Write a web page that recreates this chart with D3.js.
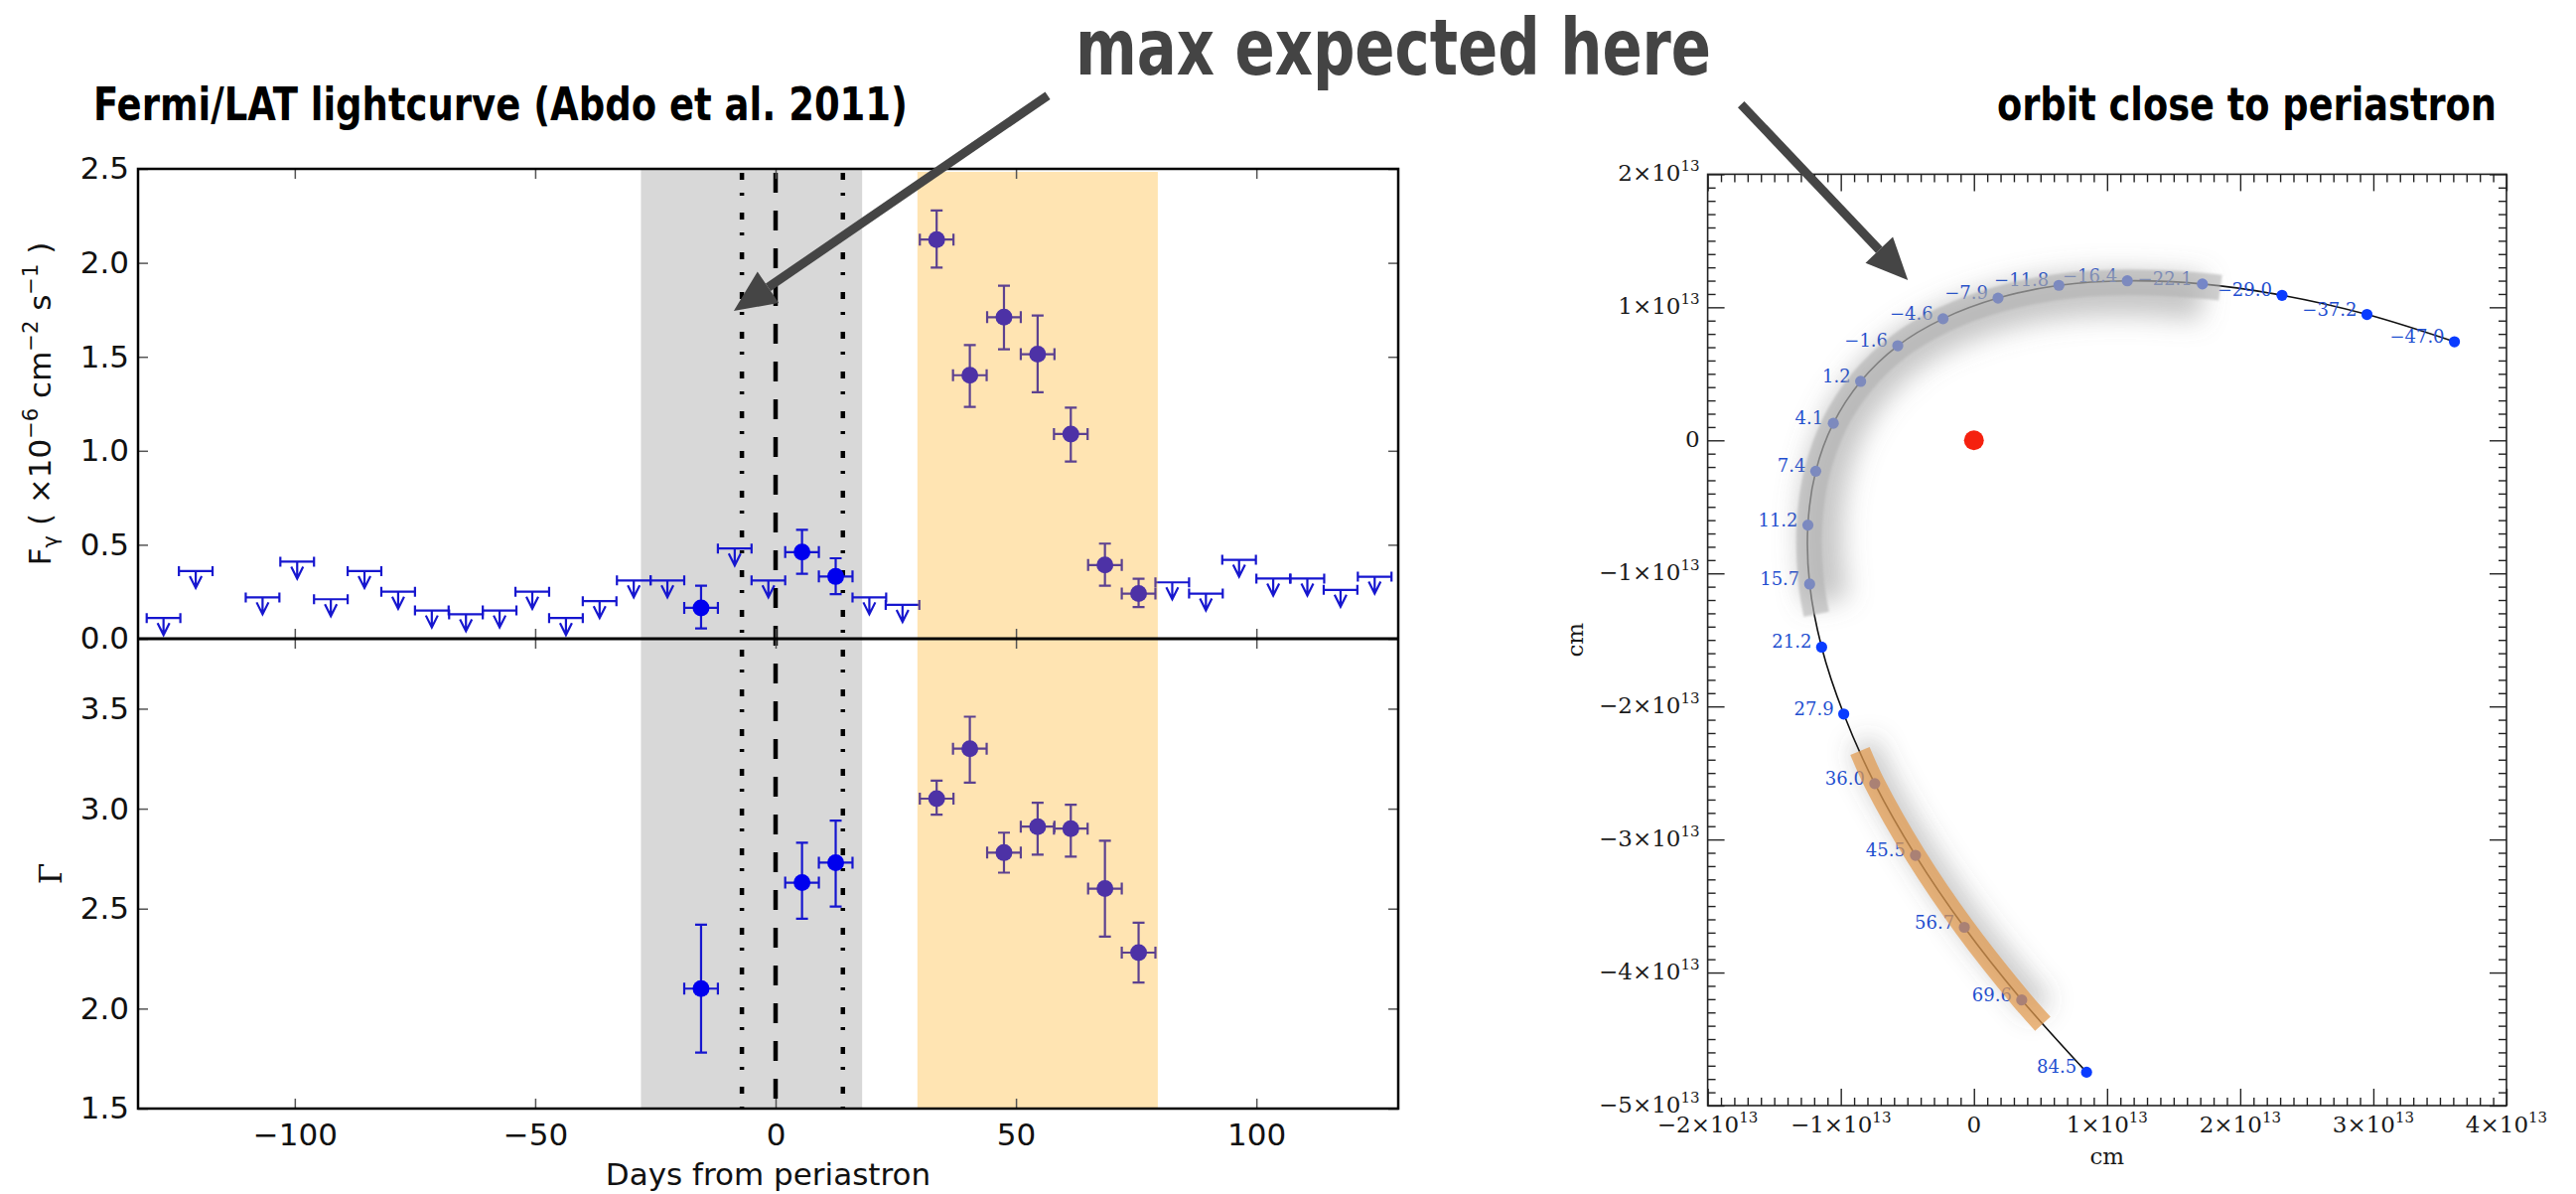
<!DOCTYPE html>
<html>
<head>
<meta charset="utf-8">
<script src="https://cdn.jsdelivr.net/npm/d3@7"></script>
<style>
  body { margin: 0; background: #fff; }
  svg { display: block; }
</style>
</head>
<body>
<svg id="chart" width="2594" height="1202"></svg>
<script>
// ---- lightcurve data (Fermi/LAT, 7 day bins) ----
var ulDay  = [-127.3, -120.6, -106.7, -99.5, -92.5, -85.5, -78.5, -71.5, -64.4, -57.4, -50.6, -43.6, -36.6, -29.5, -22.5, -8.5, -1.5, 19.5, 26.4, 82.5, 89.5, 96.4, 103.5, 110.6, 117.5, 124.6]
var ulFlux = [0.11, 0.36, 0.22, 0.41, 0.21, 0.36, 0.25, 0.15, 0.13, 0.15, 0.25, 0.11, 0.20, 0.31, 0.31, 0.48, 0.31, 0.22, 0.18, 0.30, 0.24, 0.42, 0.32, 0.32, 0.26, 0.33]
var detDay    = [-15.5, 5.5, 12.5, 33.5, 40.4, 47.5, 54.5, 61.4, 68.5, 75.5]
var detFlux   = [0.164, 0.461, 0.331, 2.124, 1.402, 1.711, 1.514, 1.089, 0.392, 0.240]
var detFluxLo = [0.055, 0.346, 0.237, 1.975, 1.234, 1.540, 1.311, 0.943, 0.282, 0.168]
var detFluxHi = [0.282, 0.579, 0.428, 2.279, 1.562, 1.878, 1.720, 1.229, 0.506, 0.319]
var gamma   = [2.10, 2.63, 2.73, 3.05, 3.30, 2.78, 2.91, 2.90, 2.60, 2.28]
var gammaLo = [1.78, 2.45, 2.51, 2.97, 3.13, 2.68, 2.77, 2.76, 2.36, 2.13]
var gammaHi = [2.42, 2.83, 2.94, 3.14, 3.46, 2.88, 3.03, 3.02, 2.84, 2.43]
var binHalf = 3.5
var greySpan = [-28, 18]
var orangeSpan = [29.5, 79.5]
var dashDotDays = [-7, 14]
var dayTicks = [-100, -50, 0, 50, 100]
var fluxTicks = [0, 0.5, 1.0, 1.5, 2.0, 2.5]
var gammaTicks = [1.5, 2.0, 2.5, 3.0, 3.5]

// ---- orbit data (units of 1e13 cm) ----
var orbitDay = [84.5, 69.6, 56.7, 45.5, 36.0, 27.9, 21.2, 15.7, 11.2, 7.4, 4.1, 1.2, -1.6, -4.6, -7.9, -11.8, -16.4, -22.1, -29.0, -37.2, -47.0]
var orbitX = [0.846, 0.359, -0.072, -0.439, -0.745, -0.978, -1.144, -1.234, -1.247, -1.188, -1.056, -0.851, -0.572, -0.232, 0.181, 0.638, 1.152, 1.716, 2.314, 2.952, 3.609]
var orbitY = [-4.749, -4.206, -3.660, -3.119, -2.580, -2.057, -1.554, -1.080, -0.637, -0.232, 0.128, 0.443, 0.711, 0.914, 1.069, 1.165, 1.199, 1.175, 1.090, 0.946, 0.741]
var greyArcX = [-1.195, -1.234, -1.247, -1.188, -1.056, -0.851, -0.572, -0.232, 0.181, 0.638, 1.152, 1.716, 1.87]
var greyArcY = [-1.32, -1.080, -0.637, -0.232, 0.128, 0.443, 0.711, 0.914, 1.069, 1.165, 1.199, 1.175, 1.158]
var orangeArcX = [-0.856, -0.745, -0.439, -0.072, 0.359, 0.517]
var orangeArcY = [-2.335, -2.580, -3.119, -3.660, -4.206, -4.385]
var orbitMajor = [-2, -1, 0, 1, 2, 3, 4]
var orbitMajorY = [-5, -4, -3, -2, -1, 0, 1, 2]

var svg = d3.select("#chart")
svg.append("rect").attr("width", 2594).attr("height", 1202).attr("fill", "#fff")

var defs = svg.append("defs")
defs.append("filter").attr("id", "soft").attr("x", "-20%").attr("y", "-20%").attr("width", "140%").attr("height", "140%")
  .append("feGaussianBlur").attr("stdDeviation", 13)
defs.append("filter").attr("id", "edge")
  .append("feGaussianBlur").attr("stdDeviation", 1.2)

// ================= left panel =================
var x = d3.scaleLinear().domain([-132.6, 129.5]).range([139, 1408])
var yF = d3.scaleLinear().domain([0, 2.5]).range([643, 170])
var yG = d3.scaleLinear().domain([1.5, 3.85]).range([1116, 643])
var blueLine = "#1616cf", blueDot = "#0000ee"
var sans = "'DejaVu Sans', Verdana, sans-serif"

var left = svg.append("g")

left.append("rect")
  .attr("x", x(greySpan[0])).attr("width", x(greySpan[1]) - x(greySpan[0]))
  .attr("y", yF(2.5)).attr("height", yG(1.5) - yF(2.5))
  .attr("fill", "#d8d8d8")

left.append("line")
  .attr("x1", x(0)).attr("x2", x(0)).attr("y1", yF(2.5) + 4).attr("y2", yG(1.5))
  .attr("stroke", "#000").attr("stroke-width", 4.5).attr("stroke-dasharray", "20 18")
left.selectAll(".dd").data(dashDotDays).enter().append("line")
  .attr("x1", d => x(d)).attr("x2", d => x(d)).attr("y1", yF(2.5) + 4).attr("y2", yG(1.5))
  .attr("stroke", "#000").attr("stroke-width", 4.5).attr("stroke-dasharray", "7 13 3 17")

// upper limits
var ul = left.selectAll(".ul").data(ulDay).enter().append("g").attr("class", "ul")
  .attr("stroke", blueLine).attr("stroke-width", 2.2).attr("fill", "none")
ul.append("line")
  .attr("x1", d => x(d - binHalf)).attr("x2", d => x(d + binHalf))
  .attr("y1", (d, i) => yF(ulFlux[i])).attr("y2", (d, i) => yF(ulFlux[i]))
ul.append("path").attr("d", (d, i) => {
  var cx = x(d), cy = yF(ulFlux[i])
  return "M" + x(d - binHalf) + "," + (cy - 5) + "V" + (cy + 5) +
         "M" + x(d + binHalf) + "," + (cy - 5) + "V" + (cy + 5) +
         "M" + cx + "," + cy + "V" + (cy + 17) +
         "M" + (cx - 6) + "," + (cy + 5) + "L" + cx + "," + (cy + 17) + "L" + (cx + 6) + "," + (cy + 5)
})

// detections with error bars
function errPoints(g, yScale, val, lo, hi) {
  var p = g.selectAll(null).data(detDay).enter().append("g")
  p.append("path")
    .attr("fill", "none").attr("stroke", blueLine).attr("stroke-width", 2.2)
    .attr("d", (d, i) => {
      var cx = x(d), cy = yScale(val[i]), a = yScale(hi[i]), b = yScale(lo[i])
      var l = x(d - binHalf), r = x(d + binHalf)
      return "M" + cx + "," + a + "V" + b +
             "M" + (cx - 6) + "," + a + "H" + (cx + 6) +
             "M" + (cx - 6) + "," + b + "H" + (cx + 6) +
             "M" + l + "," + cy + "H" + r +
             "M" + l + "," + (cy - 6) + "V" + (cy + 6) +
             "M" + r + "," + (cy - 6) + "V" + (cy + 6)
    })
  p.append("circle")
    .attr("cx", d => x(d)).attr("cy", (d, i) => yScale(val[i])).attr("r", 8.5)
    .attr("fill", blueDot)
}
errPoints(left, yF, detFlux, detFluxLo, detFluxHi)
errPoints(left, yG, gamma, gammaLo, gammaHi)

left.append("rect")
  .attr("x", x(orangeSpan[0])).attr("width", x(orangeSpan[1]) - x(orangeSpan[0]))
  .attr("y", yF(2.5) + 3).attr("height", yG(1.5) - yF(2.5) - 3)
  .attr("fill", "#ffa500").attr("fill-opacity", 0.3)

// axes (inward ticks)
function styleAxis(g) {
  g.select(".domain").remove()
  g.selectAll(".tick line").attr("stroke", "#555").attr("stroke-width", 1.5)
  g.selectAll("text").attr("font-family", sans).attr("font-size", 31).attr("fill", "#111")
}
left.append("g").attr("transform", "translate(0,1116)")
  .call(d3.axisBottom(x).tickValues(dayTicks).tickSize(-10).tickPadding(15).tickFormat(d3.format("d")))
  .call(styleAxis)
;[[yF(2.5), 10], [yF(0), -10], [yG(3.85), 10]].forEach(function (t) {
  left.append("g").attr("transform", "translate(0," + t[0] + ")")
    .call(d3.axisTop(x).tickValues(dayTicks).tickSize(-t[1]).tickFormat(""))
    .call(styleAxis)
})
left.append("g").attr("transform", "translate(139,0)")
  .call(d3.axisLeft(yF).tickValues(fluxTicks).tickSize(-10).tickPadding(9).tickFormat(d3.format(".1f")))
  .call(styleAxis)
left.append("g").attr("transform", "translate(139,0)")
  .call(d3.axisLeft(yG).tickValues(gammaTicks).tickSize(-10).tickPadding(9).tickFormat(d3.format(".1f")))
  .call(styleAxis)
left.append("g").attr("transform", "translate(1408,0)")
  .call(d3.axisRight(yF).tickValues(fluxTicks).tickSize(-10).tickFormat(""))
  .call(styleAxis)
left.append("g").attr("transform", "translate(1408,0)")
  .call(d3.axisRight(yG).tickValues(gammaTicks).tickSize(-10).tickFormat(""))
  .call(styleAxis)

left.append("rect")
  .attr("x", 139).attr("y", yF(2.5)).attr("width", 1408 - 139).attr("height", yG(1.5) - yF(2.5))
  .attr("fill", "none").attr("stroke", "#000").attr("stroke-width", 2.5)
left.append("line").attr("x1", 139).attr("x2", 1408).attr("y1", yF(0)).attr("y2", yF(0))
  .attr("stroke", "#000").attr("stroke-width", 3)

// axis labels
var fl = left.append("text")
  .attr("transform", "translate(51," + ((yF(0) + yF(2.5)) / 2) + ") rotate(-90)")
  .attr("text-anchor", "middle").attr("font-family", sans).attr("font-size", 31).attr("fill", "#111")
fl.append("tspan").text("F")
fl.append("tspan").attr("font-size", 21).attr("dy", 7).text("γ")
fl.append("tspan").attr("dy", -7).text(" ( ×10")
fl.append("tspan").attr("font-size", 21).attr("dy", -13).text("−6")
fl.append("tspan").attr("dy", 13).text(" cm")
fl.append("tspan").attr("font-size", 21).attr("dy", -13).text("−2")
fl.append("tspan").attr("dy", 13).text(" s")
fl.append("tspan").attr("font-size", 21).attr("dy", -13).text("−1")
fl.append("tspan").attr("dy", 13).text(" )")

left.append("text")
  .attr("transform", "translate(62," + ((yG(1.5) + yG(3.85)) / 2) + ") rotate(-90)")
  .attr("text-anchor", "middle").attr("font-family", "'DejaVu Serif', serif").attr("font-size", 31)
  .attr("fill", "#111").text("Γ")

left.append("text")
  .attr("x", (139 + 1408) / 2).attr("y", 1193).attr("text-anchor", "middle")
  .attr("font-family", sans).attr("font-size", 31).attr("fill", "#111")
  .text("Days from periastron")

// ================= right panel: orbit =================
var xo = d3.scaleLinear().domain([-2, 4]).range([1719.6, 2524])
var yo = d3.scaleLinear().domain([-5, 2]).range([1113, 175.4])
var serif = "'DejaVu Serif', 'Liberation Serif', serif"
var right = svg.append("g")

var idx = d3.range(orbitDay.length)
var orbitLine = d3.line().curve(d3.curveCatmullRom.alpha(0.5))
right.append("path")
  .attr("d", orbitLine(idx.map(i => [xo(orbitX[i]), yo(orbitY[i])])))
  .attr("fill", "none").attr("stroke", "#111").attr("stroke-width", 1.6)

right.selectAll(".od").data(idx).enter().append("circle")
  .attr("cx", i => xo(orbitX[i])).attr("cy", i => yo(orbitY[i])).attr("r", 5.6)
  .attr("fill", "#0a3cff")
var dayFmt = d3.format(".1f")
right.selectAll(".ol").data(idx).enter().append("text")
  .attr("x", i => xo(orbitX[i]) - 10).attr("y", i => yo(orbitY[i]) + 1)
  .attr("text-anchor", "end").attr("font-family", serif).attr("font-size", 18)
  .attr("fill", "#1f4fd0").text(i => dayFmt(orbitDay[i]))

// grey (periastron) band with soft shadow
function arcPath(xs, ys, k) {
  return orbitLine(xs.map((v, i) => [xo(v * k), yo(ys[i] * k)]))
}
right.append("path").attr("d", arcPath(greyArcX, greyArcY, 0.92))
  .attr("fill", "none").attr("stroke", "#777").attr("stroke-width", 44)
  .attr("stroke-opacity", 0.42).attr("filter", "url(#soft)")
right.append("path").attr("d", arcPath(greyArcX, greyArcY, 0.99))
  .attr("fill", "none").attr("stroke", "#b0b0b0").attr("stroke-width", 26)
  .attr("stroke-opacity", 0.6).attr("filter", "url(#edge)")

// orange band (flare)
right.append("path").attr("d", arcPath(orangeArcX, orangeArcY, 0.975))
  .attr("fill", "none").attr("stroke", "#555").attr("stroke-width", 26)
  .attr("stroke-opacity", 0.35).attr("filter", "url(#soft)")
right.append("path").attr("d", arcPath(orangeArcX, orangeArcY, 1))
  .attr("fill", "none").attr("stroke", "#e29a4e").attr("stroke-width", 21)
  .attr("stroke-opacity", 0.72)

// star
right.append("circle").attr("cx", xo(0)).attr("cy", yo(0)).attr("r", 10).attr("fill", "#f5210f")

// frame and ticks
var minorX = d3.range(-20, 41).map(v => v / 10).filter(v => Math.abs(v - Math.round(v)) > 1e-6)
var minorY = d3.range(-50, 21).map(v => v / 10).filter(v => Math.abs(v - Math.round(v)) > 1e-6)
function tickStyle(g) {
  g.select(".domain").remove()
  g.selectAll(".tick line").attr("stroke", "#222").attr("stroke-width", 1.4)
}
;[["b", 1113], ["t", 175.4]].forEach(function (s) {
  var mk = s[0] == "b" ? d3.axisBottom : d3.axisTop
  var g = right.append("g").attr("transform", "translate(0," + s[1] + ")")
  g.append("g").call(mk(xo).tickValues(orbitMajor).tickSize(-17).tickFormat("")).call(tickStyle)
  g.append("g").call(mk(xo).tickValues(minorX).tickSize(-8).tickFormat("")).call(tickStyle)
})
;[["l", 1719.6], ["r", 2524]].forEach(function (s) {
  var mk = s[0] == "l" ? d3.axisLeft : d3.axisRight
  var g = right.append("g").attr("transform", "translate(" + s[1] + ",0)")
  g.append("g").call(mk(yo).tickValues(orbitMajorY).tickSize(-17).tickFormat("")).call(tickStyle)
  g.append("g").call(mk(yo).tickValues(minorY).tickSize(-8).tickFormat("")).call(tickStyle)
})
right.append("rect")
  .attr("x", xo(-2)).attr("y", yo(2)).attr("width", xo(4) - xo(-2)).attr("height", yo(-5) - yo(2))
  .attr("fill", "none").attr("stroke", "#222").attr("stroke-width", 1.6)

function sciLabel(t, v) {
  t.attr("font-family", serif).attr("font-size", 23).attr("fill", "#1a1a1a")
  if (v === 0) { t.text("0"); return }
  t.append("tspan").text((v < 0 ? "−" : "") + Math.abs(v) + "×10")
  t.append("tspan").attr("font-size", 15).attr("dy", -10).text("13")
}
right.selectAll(".yl").data(orbitMajorY).enter().append("text")
  .attr("x", xo(-2) - 8).attr("y", d => yo(d) + 7).attr("text-anchor", "end")
  .each(function (d) { sciLabel(d3.select(this), d) })
right.selectAll(".xl").data(orbitMajor).enter().append("text")
  .attr("x", d => xo(d)).attr("y", 1140).attr("text-anchor", "middle")
  .each(function (d) { sciLabel(d3.select(this), d) })

right.append("text").attr("x", (xo(-2) + xo(4)) / 2).attr("y", 1172).attr("text-anchor", "middle")
  .attr("font-family", serif).attr("font-size", 23).attr("fill", "#1a1a1a").text("cm")
right.append("text").attr("transform", "translate(1594," + ((yo(2) + yo(-5)) / 2) + ") rotate(-90)")
  .attr("text-anchor", "middle")
  .attr("font-family", serif).attr("font-size", 23).attr("fill", "#1a1a1a").text("cm")

// ================= titles and arrows =================
var cond = "'Liberation Sans Narrow', 'DejaVu Sans Condensed', 'Roboto Condensed', 'Arial Narrow', sans-serif"
function title(txt, x0, y0, size, len, color) {
  svg.append("text").attr("x", x0).attr("y", y0)
    .attr("font-family", cond).attr("font-weight", "bold").attr("font-stretch", "condensed")
    .attr("font-size", size).attr("fill", color)
    .attr("textLength", len).attr("lengthAdjust", "spacingAndGlyphs").text(txt)
}
title("Fermi/LAT lightcurve (Abdo et al. 2011)", 94, 121, 46, 820, "#000")
title("orbit close to periastron", 2011, 121, 46, 503, "#000")
title("max expected here", 1083, 75, 78, 640, "#444")

function arrow(x1, y1, x2, y2) {
  var ang = Math.atan2(y2 - y1, x2 - x1), L = 42, hw = 19
  var bx = x2 - L * Math.cos(ang), by = y2 - L * Math.sin(ang)
  svg.append("line").attr("x1", x1).attr("y1", y1).attr("x2", bx).attr("y2", by)
    .attr("stroke", "#454545").attr("stroke-width", 9)
  svg.append("path")
    .attr("d", "M" + x2 + "," + y2 +
      "L" + (bx + hw * Math.sin(ang)) + "," + (by - hw * Math.cos(ang)) +
      "L" + (bx - hw * Math.sin(ang)) + "," + (by + hw * Math.cos(ang)) + "Z")
    .attr("fill", "#454545")
}
// arrow ends given in each panel's data coordinates
arrow(x(56.6), yF(2.89), x(-8.7), yF(1.744))
arrow(xo(-1.749), yo(2.525), xo(-0.496), yo(1.204))
</script>
</body>
</html>
